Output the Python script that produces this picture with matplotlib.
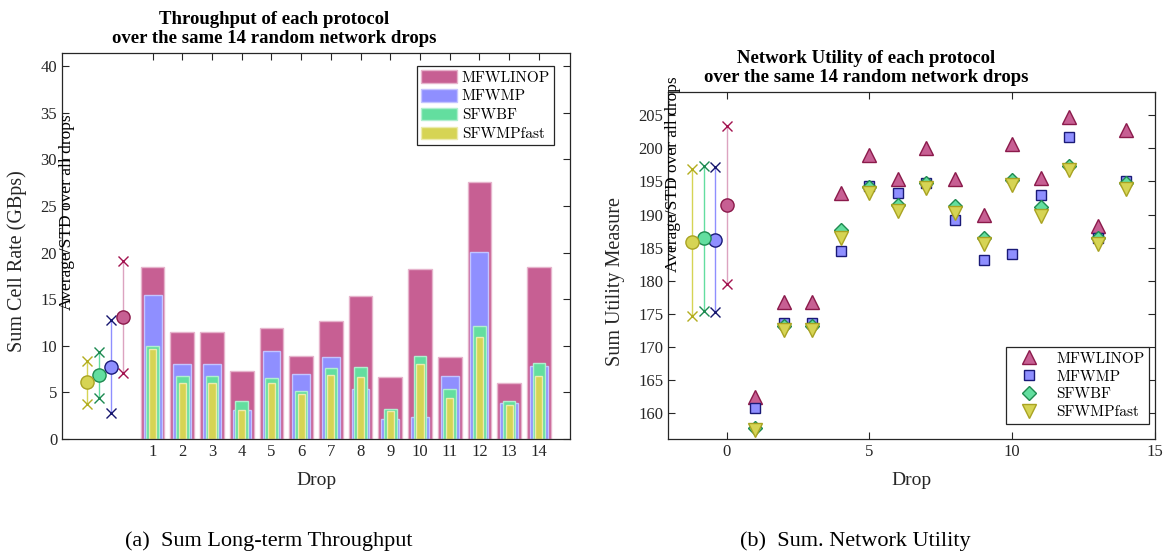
import numpy as np
import matplotlib
matplotlib.use("Agg")
import matplotlib.pyplot as plt
from matplotlib.patches import Patch
from matplotlib.lines import Line2D

plt.rcParams['font.family'] = ['Liberation Serif', 'DejaVu Serif']
plt.rcParams['mathtext.fontset'] = 'cm'

# ---- data ----
protocols = ['MFWLINOP', 'MFWMP', 'SFWBF', 'SFWMPfast']
drops = np.arange(1, 15)

thr_mfwlinop = [18.4, 11.5, 11.5, 7.3, 11.9, 8.9, 12.7, 15.3, 6.6, 18.2, 8.8, 27.6, 6.0, 18.5]
thr_mfwmp = [15.4, 8.0, 8.0, 3.1, 9.4, 7.0, 8.8, 5.4, 2.1, 2.4, 6.8, 20.1, 3.9, 7.8]
thr_sfwbf = [10.0, 6.8, 6.8, 4.1, 6.5, 5.2, 7.6, 7.7, 3.2, 8.9, 5.4, 12.1, 4.1, 8.1]
thr_sfwmpfast = [9.6, 6.0, 6.0, 3.1, 6.0, 4.8, 6.9, 6.6, 3.0, 8.0, 4.4, 10.9, 3.6, 6.8]
thr_mean = [13.1, 7.75, 6.86, 6.08]
thr_std = [6.0, 5.0, 2.45, 2.3]

util_mfwlinop = [162.5, 176.8, 176.8, 193.2, 199.0, 195.4, 200.1, 195.4, 189.9, 200.7, 195.5, 204.8, 188.3, 202.8]
util_mfwmp = [160.8, 173.6, 173.6, 184.5, 194.3, 193.3, 194.8, 189.2, 183.1, 184.1, 192.9, 201.7, 186.5, 195.0]
util_sfwbf = [157.8, 173.2, 173.2, 187.7, 194.2, 191.5, 194.7, 191.3, 186.4, 195.2, 191.2, 197.3, 186.5, 194.7]
util_sfwmpfast = [157.5, 172.5, 172.5, 186.5, 193.2, 190.6, 194.0, 190.2, 185.6, 194.5, 189.8, 196.7, 185.5, 193.8]
util_mean = [191.4, 186.2, 186.4, 185.8]
util_std = [11.9, 10.95, 11.0, 11.1]

# ---- styles ----
face = ['#c75f93', '#8f8fff', '#63de9f', '#d6d454']
edge = ['#8b1a4b', '#1a1a78', '#1f8a50', '#a9a322']
bar_edge = ['#e6b4cc', '#c4c4ff', '#b0efcf', '#ecebae']
line_col = ['#dca3c0', '#8f8fff', '#63de9f', '#d6d454']
xmark_col = ['#a3124f', '#16166e', '#1c8a50', '#b3ad1e']
avg_x = [0.0, -0.4, -0.8, -1.2]
bar_w = [0.8, 0.6, 0.42, 0.24]
markers = ['^', 's', 'D', 'v']
msizes = [10, 7, 7, 10]
axcol = '#262626'

fig = plt.figure(figsize=(11.63, 5.52), dpi=100)
ax1 = fig.add_axes([62 / 1163, 1 - 439 / 552, 508 / 1163, 386 / 552])
ax2 = fig.add_axes([668 / 1163, 1 - 439 / 552, 487 / 1163, 347 / 552])


def draw_avg(ax, means, stds):
    for i in range(4):
        m, s = means[i], stds[i]
        ax.plot([avg_x[i], avg_x[i]], [m - s, m + s], color=line_col[i], lw=1, zorder=2)
        ax.plot([avg_x[i], avg_x[i]], [m - s, m + s], 'x', color=xmark_col[i], ms=7, mew=1, zorder=3)
        ax.plot(avg_x[i], m, 'o', mfc=face[i], mec=edge[i], ms=9.5, mew=1, zorder=4)


def style_axes(ax):
    for sp in ax.spines.values():
        sp.set_color(axcol)
        sp.set_linewidth(0.9)
    ax.tick_params(direction='in', top=True, right=True, length=5, width=0.8,
                   colors=axcol, labelsize=12, labelcolor=axcol)


# ---- left: throughput bars ----
thr = [thr_mfwlinop, thr_mfwmp, thr_sfwbf, thr_sfwmpfast]
for i in range(4):
    ax1.bar(drops, thr[i], width=bar_w[i], color=face[i], edgecolor=bar_edge[i],
            linewidth=1, zorder=1 + i * 0.1)
draw_avg(ax1, thr_mean, thr_std)
ax1.set_axisbelow(True)
ax1.set_xlim(-2.05, 15.05)
ax1.set_ylim(0, 41.4)
ax1.set_xticks(drops)
ax1.set_yticks(np.arange(0, 41, 5))
style_axes(ax1)
ax1.set_xlabel('Drop', fontsize=14, color=axcol, labelpad=9)
ax1.set_ylabel('Sum Cell Rate (GBps)', fontsize=14.5, color=axcol)
ax1.yaxis.set_label_coords(-0.069, 0.462)
ax1.text(-0.006, 0.334, 'Average/STD over all drops', rotation=90, transform=ax1.transAxes,
         ha='left', va='bottom', fontsize=12.5, color='black')
handles = [Patch(facecolor=face[i], edgecolor=bar_edge[i]) for i in range(4)]
leg1 = ax1.legend(handles, protocols, loc='upper right', bbox_to_anchor=(0.9685, 0.966),
                  borderaxespad=0, fancybox=False, framealpha=1, edgecolor=axcol,
                  prop={'family': 'cmr10', 'size': 11}, handlelength=2.4, handleheight=0.9,
                  handletextpad=0.3, labelspacing=0.28, borderpad=0.25)
leg1.get_frame().set_linewidth(0.9)

# ---- right: network utility scatter ----
util = [util_mfwlinop, util_mfwmp, util_sfwbf, util_sfwmpfast]
draw_avg(ax2, util_mean, util_std)
for i in range(4):
    ax2.plot(drops, util[i], markers[i], mfc=face[i], mec=edge[i], ms=msizes[i], mew=1,
             zorder=5 + i)
ax2.set_xlim(-2.05, 15)
ax2.set_ylim(156.1, 208.5)
ax2.set_xticks([0, 5, 10, 15])
ax2.set_yticks(np.arange(160, 206, 5))
style_axes(ax2)
ax2.set_xlabel('Drop', fontsize=14, color=axcol, labelpad=9)
ax2.set_ylabel('Sum Utility Measure', fontsize=14.5, color=axcol)
ax2.yaxis.set_label_coords(-0.088, 0.454)
ax2.text(-0.006, 0.481, 'Average/STD over all drops', rotation=90, transform=ax2.transAxes,
         ha='left', va='bottom', fontsize=12.5, color='black', clip_on=False)
handles2 = [Line2D([], [], linestyle='none', marker=markers[i], mfc=face[i], mec=edge[i],
                   ms=msizes[i], mew=1) for i in range(4)]
leg2 = ax2.legend(handles2, protocols, loc='lower right', bbox_to_anchor=(0.9877, 0.043),
                  borderaxespad=0, fancybox=False, framealpha=1, edgecolor=axcol,
                  prop={'family': 'cmr10', 'size': 11}, handlelength=2.4,
                  handletextpad=0.6, labelspacing=0.28, borderpad=0.3)
leg2.get_frame().set_linewidth(0.9)

# ---- titles and captions ----
fig.text(274 / 1163, 1 - 29 / 552, 'Throughput of each protocol\nover the same 14 random network drops',
         ha='center', va='center', fontsize=13.5, fontweight='bold', linespacing=1.1)
fig.text(866 / 1163, 1 - 68 / 552, 'Network Utility of each protocol\nover the same 14 random network drops',
         ha='center', va='center', fontsize=13.5, fontweight='bold', linespacing=1.1)
fig.text(269 / 1163, 1 - 541 / 552, '(a)  Sum Long-term Throughput', ha='center', va='center', fontsize=16)
fig.text(855 / 1163, 1 - 541 / 552, '(b)  Sum. Network Utility', ha='center', va='center', fontsize=16)

fig.savefig('out.png', dpi=100)
